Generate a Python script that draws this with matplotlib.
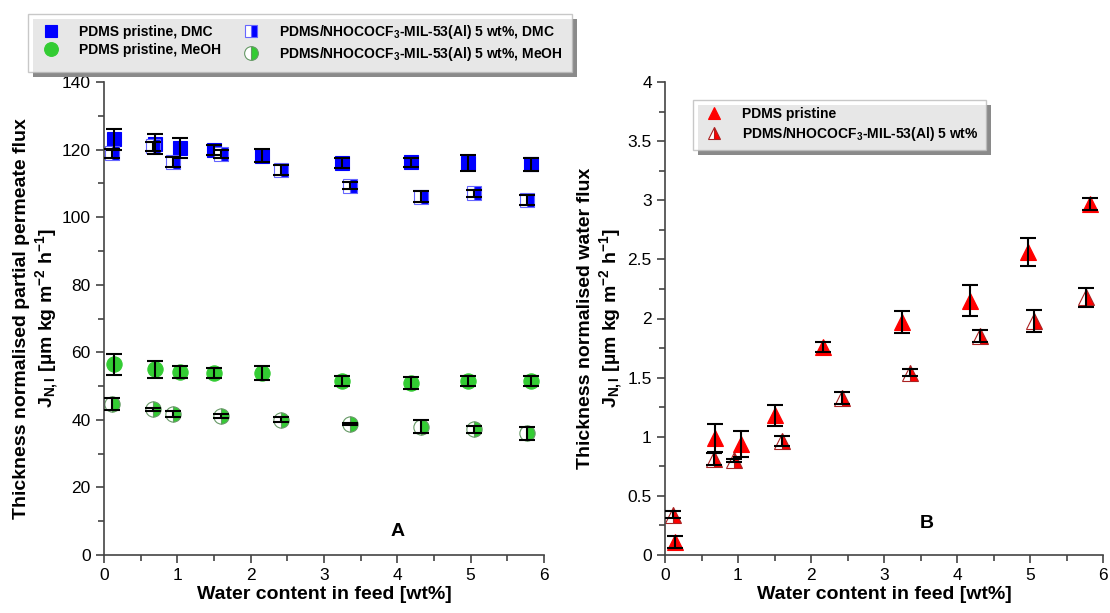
import matplotlib
matplotlib.use("Agg")
import matplotlib.pyplot as plt
from matplotlib.ticker import MultipleLocator
from matplotlib.patches import Rectangle
from matplotlib.transforms import IdentityTransform

plt.rcParams['font.family'] = ['Liberation Sans', 'DejaVu Sans']
plt.rcParams['mathtext.fontset'] = 'custom'
plt.rcParams['mathtext.rm'] = 'Liberation Sans'
plt.rcParams['mathtext.bf'] = 'Liberation Sans:bold'
plt.rcParams['mathtext.it'] = 'Liberation Sans:italic'

# ---------------- data ----------------
x_pristine = [0.14, 0.69, 1.04, 1.50, 2.16, 3.25, 4.18, 4.97, 5.82]
x_composite = [0.11, 0.67, 0.945, 1.60, 2.42, 3.35, 4.32, 5.05, 5.77]

dmc_pristine = [123.0, 121.6, 120.4, 119.9, 118.2, 115.9, 116.2, 116.1, 115.6]
dmc_pristine_err = [3.0, 3.0, 3.0, 1.4, 2.0, 1.5, 1.4, 2.3, 2.0]
dmc_composite = [118.9, 121.0, 116.2, 118.7, 113.9, 109.3, 106.1, 107.1, 105.1]
dmc_composite_err = [1.3, 1.3, 1.5, 1.3, 1.5, 1.0, 1.5, 1.0, 1.5]

meoh_pristine = [56.4, 55.0, 54.2, 53.8, 53.8, 51.5, 51.0, 51.5, 51.5]
meoh_pristine_err = [3.1, 2.5, 1.8, 1.5, 2.0, 1.5, 1.8, 1.5, 1.5]
meoh_composite = [44.7, 43.1, 41.7, 41.1, 40.0, 38.7, 38.0, 37.2, 36.0]
meoh_composite_err = [1.8, 0.5, 1.0, 0.5, 0.7, 0.3, 2.0, 1.0, 2.0]

water_pristine = [0.11, 0.99, 0.94, 1.18, 1.76, 1.97, 2.15, 2.56, 2.97]
water_pristine_err = [0.05, 0.12, 0.11, 0.09, 0.04, 0.09, 0.13, 0.12, 0.05]
water_composite = [0.34, 0.81, 0.80, 0.965, 1.33, 1.54, 1.85, 1.98, 2.18]
water_composite_err = [0.03, 0.05, 0.01, 0.045, 0.05, 0.03, 0.05, 0.09, 0.08]

lbl_dmc_p = 'PDMS pristine, DMC'
lbl_meoh_p = 'PDMS pristine, MeOH'
lbl_dmc_c = r'PDMS/NHOCOCF$_\mathbf{3}$-MIL-53(Al) 5 wt%, DMC'
lbl_meoh_c = r'PDMS/NHOCOCF$_\mathbf{3}$-MIL-53(Al) 5 wt%, MeOH'
lbl_w_p = 'PDMS pristine'
lbl_w_c = r'PDMS/NHOCOCF$_\mathbf{3}$-MIL-53(Al) 5 wt%'

BLUE = '#0000ff'
GREEN = '#33cc33'
RED = '#ff0000'

fig = plt.figure(figsize=(11.1, 6.13), dpi=100)
axA = fig.add_axes([104/1110, 1-555/613, 440/1110, 473/613])
axB = fig.add_axes([665/1110, 1-555/613, 438/1110, 473/613])


def series(ax, x, y, e, marker, color, edge, half, ms, label):
    if half:
        (h,) = ax.plot(x, y, linestyle='none', marker=marker, ms=ms, fillstyle='right',
                       markerfacecolor=color, markerfacecoloralt='white',
                       markeredgecolor=edge, markeredgewidth=0.8, label=label, zorder=2)
    else:
        (h,) = ax.plot(x, y, linestyle='none', marker=marker, ms=ms, markerfacecolor=color,
                       markeredgecolor=color, markeredgewidth=0.8, label=label, zorder=2)
    ax.errorbar(x, y, yerr=e, fmt='none', ecolor='black', elinewidth=1.5,
                capsize=6, capthick=1.5, zorder=3)
    return h


hA1 = series(axA, x_pristine, dmc_pristine, dmc_pristine_err, 's', BLUE, BLUE, False, 9.5, lbl_dmc_p)
hA2 = series(axA, x_composite, dmc_composite, dmc_composite_err, 's', BLUE, '#6666ff', True, 9.5, lbl_dmc_c)
hA3 = series(axA, x_pristine, meoh_pristine, meoh_pristine_err, 'o', GREEN, GREEN, False, 11, lbl_meoh_p)
hA4 = series(axA, x_composite, meoh_composite, meoh_composite_err, 'o', GREEN, '#669966', True, 11, lbl_meoh_c)

hB1 = series(axB, x_pristine, water_pristine, water_pristine_err, '^', RED, RED, False, 11, lbl_w_p)
hB2 = series(axB, x_composite, water_composite, water_composite_err, '^', RED, '#aa2222', True, 11, lbl_w_c)

for ax in (axA, axB):
    for s in ('top', 'right'):
        ax.spines[s].set_visible(False)
    for s in ('left', 'bottom'):
        ax.spines[s].set_color('#444444')
        ax.spines[s].set_linewidth(1.2)
    ax.set_xlim(0, 6)
    ax.xaxis.set_major_locator(MultipleLocator(1))
    ax.xaxis.set_minor_locator(MultipleLocator(0.5))
    ax.tick_params(which='both', direction='out', colors='#444444', labelcolor='black',
                   labelsize=12.5)
    ax.tick_params(which='major', length=6, width=1.2)
    ax.tick_params(which='minor', length=4, width=1.2)
    ax.set_xlabel('Water content in feed [wt%]', fontsize=14, fontweight='bold', labelpad=2)

axA.set_ylim(0, 140)
axA.yaxis.set_major_locator(MultipleLocator(20))
axA.yaxis.set_minor_locator(MultipleLocator(10))
axB.set_ylim(0, 4)
axB.yaxis.set_minor_locator(MultipleLocator(0.25))
axB.set_yticks([0, 0.5, 1, 1.5, 2, 2.5, 3, 3.5, 4])
axB.set_yticklabels(['0', '0.5', '1', '1.5', '2', '2.5', '3', '3.5', '4'])

unit = r'J$_\mathbf{N,I}$ [µm kg m$^\mathbf{-2}$ h$^\mathbf{-1}$]'
axA.set_ylabel('Thickness normalised partial permeate flux\n' + unit,
               fontsize=14, fontweight='bold', linespacing=1.15)
axB.set_ylabel('Thickness normalised water flux\n' + unit,
               fontsize=14, fontweight='bold', linespacing=1.15)
axA.yaxis.set_label_coords((61 - 104) / 440, 0.5)
axB.yaxis.set_label_coords((625 - 665) / 438, 0.5)

axA.text(4.0, 7, 'A', fontsize=14, fontweight='bold', ha='center', va='center')
axB.text(3.58, 0.27, 'B', fontsize=14, fontweight='bold', ha='center', va='center')

legA = fig.legend([hA1, hA3, hA2, hA4],
                  [lbl_dmc_p, lbl_meoh_p, lbl_dmc_c, lbl_meoh_c],
                  ncol=2, loc='upper left', bbox_to_anchor=(28/1110, 1-14/613),
                  borderaxespad=0, frameon=True, fancybox=False, shadow=False,
                  prop={'weight': 'bold', 'size': 10}, handlelength=2.0,
                  handletextpad=1.05, columnspacing=1.1, borderpad=0.65,
                  labelspacing=0.3, numpoints=1, markerscale=0.9)
legA.get_frame().set_edgecolor('#bbbbbb')
legA.get_frame().set_linewidth(1.0)

legB = axB.legend([hB1, hB2], [lbl_w_p, lbl_w_c], loc='upper left',
                  bbox_to_anchor=((693 - 665) / 438, (555 - 100) / 473),
                  borderaxespad=0, frameon=True, fancybox=False, shadow=False,
                  prop={'weight': 'bold', 'size': 10}, handlelength=2.0,
                  handletextpad=1.05, borderpad=0.5, labelspacing=0.3,
                  numpoints=1, markerscale=0.75)
legB.get_frame().set_edgecolor('#bbbbbb')
legB.get_frame().set_linewidth(1.0)

# drop shadows offset by a few pixels
fig.canvas.draw()
renderer = fig.canvas.get_renderer()
for leg, parent in ((legA, fig), (legB, axB)):
    bb = leg.get_frame().get_window_extent(renderer)
    sh = Rectangle((bb.x0 + 5, bb.y0 - 5), bb.width, bb.height,
                   transform=IdentityTransform(), facecolor='#8a8a8a',
                   edgecolor='none', zorder=4.5, clip_on=False)
    parent.add_artist(sh)

fig.savefig('out.png', dpi=100)
